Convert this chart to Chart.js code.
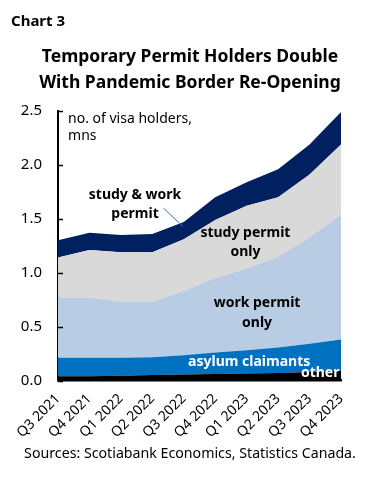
<!DOCTYPE html>
<html>
<head>
<meta charset="utf-8">
<script src="https://cdn.jsdelivr.net/npm/chart.js@4/dist/chart.umd.min.js"></script>
<style>
  body { margin: 0; background: #fff; font-family: "Noto Sans", sans-serif; }
  #wrap { position: relative; width: 380px; height: 500px; }
  #myChart { position: absolute; left: 0; top: 0; }
  .lbl { position: absolute; color: #000; white-space: nowrap; }
  #num { left: 11px; top: 10px; font-size: 15px; font-weight: bold; }
  #title { left: 0; width: 380px; top: 42px; text-align: center; font-size: 17.5px; font-weight: bold; line-height: 26px; }
  #src { left: 0; width: 380px; top: 443px; text-align: center; font-size: 14.2px; }
</style>
</head>
<body>
<div id="wrap">
  <canvas id="myChart" width="380" height="500"></canvas>
  <div class="lbl" id="num">Chart 3</div>
  <div class="lbl" id="title">Temporary Permit Holders Double<br>With Pandemic Border Re-Opening</div>
  <div class="lbl" id="src">Sources: Scotiabank Economics, Statistics Canada.</div>
</div>
<script>
const quarters = ['Q3 2021', 'Q4 2021', 'Q1 2022', 'Q2 2022', 'Q3 2022',
                  'Q4 2022', 'Q1 2023', 'Q2 2023', 'Q3 2023', 'Q4 2023'];

// millions of visa holders, stacked bottom to top
const other      = [0.04, 0.04, 0.045, 0.05, 0.055, 0.06, 0.065, 0.07, 0.08, 0.09];
const asylum     = [0.17, 0.17, 0.165, 0.165, 0.18, 0.20, 0.215, 0.235, 0.26, 0.29];
const workOnly   = [0.56, 0.56, 0.52, 0.515, 0.595, 0.69, 0.76, 0.845, 0.99, 1.16];
const studyOnly  = [0.37, 0.44, 0.46, 0.46, 0.48, 0.54, 0.58, 0.55, 0.58, 0.65];
const studyWork  = [0.16, 0.16, 0.16, 0.17, 0.16, 0.21, 0.22, 0.26, 0.28, 0.30];

const yTicks = [0, 0.5, 1.0, 1.5, 2.0, 2.5];

const FONT = '"Noto Sans", sans-serif';

// text labels placed in data coordinates (category index, value)
const notes = [
    {text: 'no. of visa holders,', x: 0.32, y: 2.43, bold: false, align: 'left', color: '#000'},
    {text: 'mns', x: 0.32, y: 2.27, bold: false, align: 'left', color: '#000'},
    {text: 'study & work', x: 2.45, y: 1.72, bold: true, align: 'center', color: '#000'},
    {text: 'permit', x: 2.45, y: 1.54, bold: true, align: 'center', color: '#000'},
    {text: 'study permit', x: 5.96, y: 1.37, bold: true, align: 'center', color: '#000'},
    {text: 'only', x: 5.96, y: 1.19, bold: true, align: 'center', color: '#000'},
    {text: 'work permit', x: 6.33, y: 0.715, bold: true, align: 'center', color: '#000'},
    {text: 'only', x: 6.33, y: 0.535, bold: true, align: 'center', color: '#000'},
    {text: 'asylum claimants', x: 6.08, y: 0.175, bold: true, align: 'center', color: '#fff'},
    {text: 'other', x: 8.95, y: 0.07, bold: true, align: 'right', color: '#fff'}
];

const notesPlugin = {
    id: 'notes',
    afterDraw(chart) {
        const c = chart.ctx;
        const xs = chart.scales.x, ys = chart.scales.y;
        const area = chart.chartArea;
        c.save();
        // inner tick marks on the value axis
        c.strokeStyle = '#000';
        c.lineWidth = 1.5;
        yTicks.forEach(v => {
            const py = Math.round(ys.getPixelForValue(v)) + 0.5;
            c.beginPath();
            c.moveTo(area.left, py);
            c.lineTo(area.left + 5, py);
            c.stroke();
        });
        c.textBaseline = 'middle';
        notes.forEach(n => {
            c.font = (n.bold ? 'bold ' : '') + '14px ' + FONT;
            c.fillStyle = n.color;
            c.textAlign = n.align;
            c.fillText(n.text, xs.getPixelForValue(n.x), ys.getPixelForValue(n.y));
        });
        // leader line for study & work permit
        c.strokeStyle = '#2e75b6';
        c.lineWidth = 1;
        c.beginPath();
        c.moveTo(xs.getPixelForValue(3.35), ys.getPixelForValue(1.60));
        c.lineTo(xs.getPixelForValue(3.97), ys.getPixelForValue(1.43));
        c.stroke();
        c.restore();
    }
};

function area(label, data, color, fill) {
    return {
        label: label,
        data: data,
        backgroundColor: color,
        borderColor: color,
        borderWidth: 0,
        pointRadius: 0,
        fill: fill,
        tension: 0
    };
}

const ctx = document.getElementById('myChart').getContext('2d');

const chart = new Chart(ctx, {
    type: 'line',
    data: {
        labels: quarters,
        datasets: [
            area('other', other, '#000000', 'origin'),
            area('asylum claimants', asylum, '#0070c0', '-1'),
            area('work permit only', workOnly, '#b8cce4', '-1'),
            area('study permit only', studyOnly, '#d9d9d9', '-1'),
            area('study & work permit', studyWork, '#002060', '-1')
        ]
    },
    options: {
        responsive: false,
        animation: false,
        events: [],
        layout: {
            padding: {left: 8, right: 39, top: 111, bottom: 57}
        },
        plugins: {
            legend: {display: false},
            tooltip: {enabled: false}
        },
        scales: {
            x: {
                offset: false,
                grid: {display: false},
                border: {color: '#000', width: 2.5},
                ticks: {
                    color: '#000',
                    font: {family: FONT, size: 14},
                    minRotation: 45,
                    maxRotation: 45,
                    padding: 2
                }
            },
            y: {
                stacked: true,
                min: 0,
                max: 2.5,
                grid: {display: false, drawTicks: false},
                border: {color: '#000', width: 2},
                afterBuildTicks: axis => {
                    axis.ticks = yTicks.map(v => ({value: v}));
                },
                afterFit: axis => {
                    axis.width = 50;
                },
                ticks: {
                    color: '#000',
                    padding: 16,
                    font: {family: FONT, size: 15},
                    callback: v => v.toFixed(1)
                }
            }
        }
    },
    plugins: [notesPlugin]
});
</script>
</body>
</html>
